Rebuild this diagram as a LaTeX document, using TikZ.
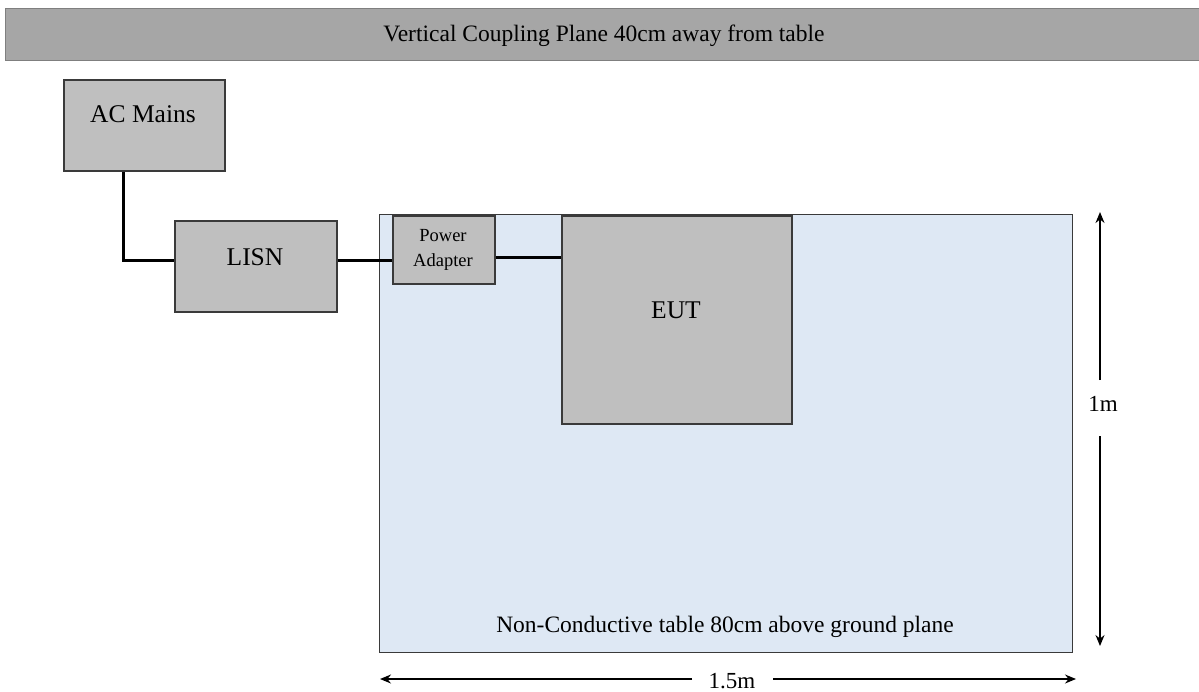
\documentclass[tikz,border=0pt]{standalone}
\usepackage{fontspec}
\setmainfont{Liberation Serif}
\usetikzlibrary{arrows.meta,calc}
\definecolor{bargray}{HTML}{A6A6A6}
\definecolor{bargrayedge}{HTML}{7F7F7F}
\definecolor{boxgray}{HTML}{BFBFBF}
\definecolor{tableblue}{HTML}{DEE8F4}
\definecolor{edgegray}{HTML}{3A3A3A}
\begin{document}
\begin{tikzpicture}[x=1pt,y=-1pt,
  box/.style={draw=edgegray,fill=boxgray,line width=1.6pt,rectangle,inner sep=0pt,anchor=north west},
  wire/.style={line width=3pt,black},
  dim/.style={line width=1.3pt,black,-{Stealth[length=11pt,width=9pt]}},
  biglbl/.style={font=\fontsize{25.5}{30}\selectfont,anchor=base,inner sep=0pt},
  midlbl/.style={font=\fontsize{23.5}{28}\selectfont,anchor=base,inner sep=0pt},
  smalllbl/.style={font=\fontsize{18.5}{25}\selectfont,align=center,inner sep=0pt}]
\useasboundingbox (0,0) rectangle (1199,691);
% title bar
\node[draw=bargrayedge,fill=bargray,line width=1.2pt,rectangle,inner sep=0pt,anchor=north west,
  minimum width=1197,minimum height=52] (bar) at (5,8) {};
\node[midlbl] (bartext) at (604,41) {Vertical Coupling Plane 40cm away from table};
% table
\node[draw=edgegray,fill=tableblue,line width=1.3pt,rectangle,inner sep=0pt,anchor=north west,
  minimum width=693,minimum height=438] (table) at (379,214) {};
\node[midlbl] (tabletext) at (725,632) {Non-Conductive table 80cm above ground plane};
% boxes
\node[box,minimum width=161,minimum height=91] (ac) at (63,79) {};
\node[biglbl] (actext) at (143,122) {AC Mains};
\node[box,minimum width=162,minimum height=91] (lisn) at (174,220) {};
\node[biglbl] (lisntext) at (255,265) {LISN};
\node[box,minimum width=102,minimum height=68] (pa) at (392,215) {};
\node[smalllbl] (patext) at (443,249.5) {Power\\Adapter};
\node[box,minimum width=230,minimum height=208] (eut) at (561,215) {};
\node[biglbl] (euttext) at (676,318) {EUT};
% wires
\draw[wire] ($(ac.south west)!0.373!(ac.south east)$) |- ([yshift=5.5pt]lisn.west);
\draw[wire] ([yshift=5.5pt]lisn.east) -- ([yshift=5.5pt]lisn.east -| pa.west);
\draw[wire] ([yshift=-8pt]pa.east) -- ([yshift=-8pt]pa.east -| eut.west);
% dimension 1m
\coordinate (vtop) at (1100,212);
\coordinate (vbot) at (1100,646);
\coordinate (vg1) at (1100,380);
\coordinate (vg2) at (1100,436);
\node[font=\fontsize{23}{28}\selectfont,inner sep=0pt] (onem) at (1103,404) {1m};
\draw[dim] (vg1) -- (vtop);
\draw[dim] (vg2) -- (vbot);
% dimension 1.5m
\coordinate (hl) at (380,679);
\coordinate (hr) at (1076,679);
\coordinate (hg1) at (692,679);
\coordinate (hg2) at (773,679);
\node[font=\fontsize{23}{28}\selectfont,anchor=base,inner sep=0pt] (onefive) at (732,688) {1.5m};
\draw[dim] (hg1) -- (hl);
\draw[dim] (hg2) -- (hr);
\end{tikzpicture}
\end{document}
